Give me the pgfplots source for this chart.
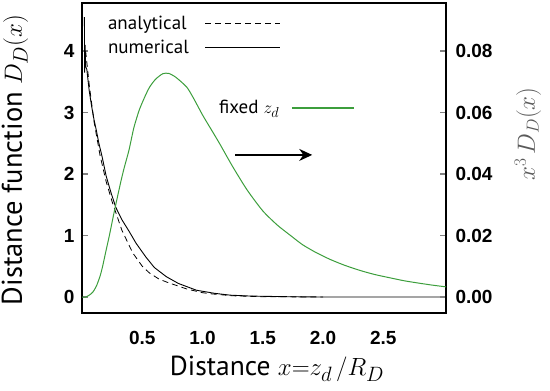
\documentclass[border=0pt]{standalone}
\usepackage{fontspec}
\setmainfont{PT Sans}
\newfontfamily\arialfont{Liberation Sans}
\usepackage{pgfplots}
\pgfplotsset{compat=1.18}
\usetikzlibrary{arrows.meta}
\definecolor{grn}{RGB}{60,158,60}
\definecolor{lblgray}{RGB}{90,90,90}

\pgfplotstableread{
x y
0.020 4.55
0.022 3.65
0.026 4.10
0.030 3.75
0.040 3.70
0.060 3.35
0.080 3.10
0.100 2.88
0.120 2.70
0.140 2.50
0.167 2.28
0.200 1.97
0.240 1.70
0.280 1.46
0.330 1.26
0.390 1.07
0.450 0.87
0.530 0.65
0.600 0.48
0.700 0.33
0.800 0.22
0.950 0.11
1.100 0.06
1.230 0.03
1.400 0.015
1.700 0.005
2.000 0.0
2.500 0.0
3.020 0.0
}\numerical

\pgfplotstableread{
x y
0.030 4.00
0.060 3.45
0.100 2.85
0.150 2.30
0.200 1.88
0.250 1.55
0.330 1.09
0.420 0.72
0.500 0.50
0.560 0.39
0.640 0.29
0.720 0.23
0.870 0.13
1.000 0.07
1.080 0.05
1.250 0.02
1.500 0.005
2.000 0.0
}\analytical

\pgfplotstableread{
x y
0.000 0.0
0.030 0.0
0.060 0.0006
0.090 0.0016
0.120 0.0036
0.150 0.0068
0.170 0.0098
0.200 0.0152
0.225 0.0196
0.250 0.0244
0.270 0.0282
0.300 0.0336
0.325 0.0380
0.350 0.0420
0.390 0.0478
0.430 0.0550
0.475 0.0608
0.520 0.0650
0.560 0.0682
0.610 0.0708
0.670 0.0726
0.720 0.0727
0.780 0.0714
0.870 0.0682
0.930 0.0643
1.000 0.0592
1.070 0.0546
1.140 0.0500
1.250 0.0424
1.370 0.0348
1.500 0.0280
1.620 0.0234
1.730 0.0200
1.830 0.0170
1.940 0.0145
2.060 0.0122
2.180 0.0103
2.310 0.0086
2.430 0.0073
2.560 0.0062
2.670 0.0053
2.780 0.0046
2.900 0.0039
3.020 0.0033
}\fixedzd

\begin{document}
\begin{tikzpicture}
\begin{axis}[
  name=main,
  scale only axis,
  width=364pt, height=310pt,
  xmin=0, xmax=3.02,
  ymin=-0.26, ymax=4.78,
  axis line style={line width=1.8pt},
  xtick={0.5,1.0,1.5,2.0,2.5},
  xticklabels={0.5,1.0,1.5,2.0,2.5},
  ytick={0,1,2,3,4},
  ytick pos=left,
  xtick pos=bottom,
  x tick style={draw=none},
  y tick style={line width=1.2pt},
  tick align=inside,
  major tick length=6pt,
  /pgf/number format/assume math mode=true,
  tick label style={font=\arialfont\bfseries\fontsize{19}{22}\selectfont},
  x tick label style={anchor=north, yshift=-15pt},
  y tick label style={anchor=east, xshift=-4pt},
  every axis y label/.style={at={(axis description cs:0,0.5)}, anchor=center, xshift=-67pt, yshift=-2pt, rotate=90},
  every axis x label/.style={at={(axis description cs:0.5,0)}, anchor=center, yshift=-56pt, xshift=13pt},
  ylabel={\fontsize{28.5}{32}\selectfont Distance function $D_D(x)$},
  xlabel={\fontsize{27.5}{30}\selectfont Distance $x{=}z_d\,/R_D$},
  legend plot pos=right,
  legend cell align=left,
  legend image code/.code={\path (0pt,0pt); \draw[#1] (14pt,0pt) -- (89pt,0pt);},
  legend style={at={(axis description cs:0.06,0.972)}, anchor=north west, draw=none, fill=none,
    font=\fontsize{19}{22}\selectfont, row sep=5pt, inner sep=2pt},
]
\addplot[black, line width=0.8pt, dash pattern=on 6pt off 4pt] table[x=x,y=y] {\analytical};
\addlegendentry{analytical}
\addplot[black, line width=0.9pt] table[x=x,y=y] {\numerical};
\addlegendentry{numerical}
\draw[line width=1.5pt, -{Stealth[length=13pt,width=12pt]}] (axis cs:1.27,2.31) -- (axis cs:1.91,2.31);
\coordinate (SW) at (rel axis cs:0,0);
\coordinate (NE) at (rel axis cs:1,1);
\end{axis}
\begin{axis}[
  scale only axis,
  width=364pt, height=310pt,
  xmin=0, xmax=3.02,
  ymin=-0.0052, ymax=0.0956,
  axis x line=none,
  axis y line*=right,
  axis line style={line width=1.8pt},
  ytick={0,0.02,0.04,0.06,0.08},
  y tick style={line width=1.2pt},
  tick align=inside,
  major tick length=6pt,
  /pgf/number format/assume math mode=true,
  yticklabel style={/pgf/number format/fixed, /pgf/number format/fixed zerofill, /pgf/number format/precision=2,
    font=\arialfont\bfseries\fontsize{19}{22}\selectfont, anchor=west, xshift=6pt},
  scaled y ticks=false,
  every axis y label/.style={at={(axis description cs:1,0.5)}, anchor=center, xshift=82pt, yshift=24pt, rotate=90},
  ylabel={\color{lblgray}\fontsize{25}{28}\selectfont $x^3\,D_D(x)$},
  legend plot pos=right,
  legend cell align=left,
  legend image code/.code={\path (0pt,0pt); \draw[draw=grn, line width=1.8pt] (10pt,0pt) -- (72pt,0pt);},
  legend style={at={(axis description cs:0.365,0.70)}, anchor=north west, draw=none, fill=none,
    font=\fontsize{19}{22}\selectfont, inner sep=2pt},
]
\addplot[grn, line width=1pt, smooth, tension=0.4] table[x=x,y=y] {\fixedzd};
\addlegendentry{fixed $z_d$}
\end{axis}
\pgfresetboundingbox
\path (SW) ++(-82pt,-77pt) rectangle ([shift={(104pt,3pt)}]NE);
\end{tikzpicture}
\end{document}
